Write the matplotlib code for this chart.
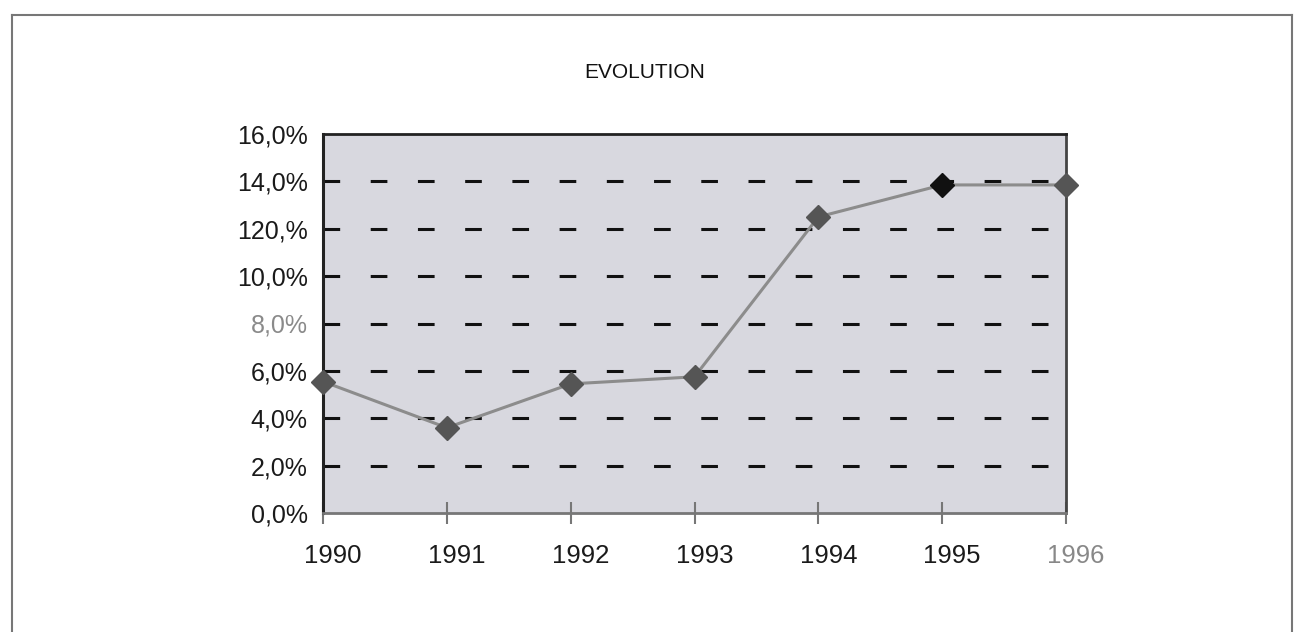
import matplotlib
matplotlib.use("Agg")
import matplotlib.pyplot as plt
from matplotlib.lines import Line2D
from matplotlib.transforms import ScaledTranslation

plt.rcParams['font.family'] = ['Liberation Sans', 'DejaVu Sans']
plt.rcParams['lines.scale_dashes'] = False

# Data
years = [1990, 1991, 1992, 1993, 1994, 1995, 1996]
values = [5.55, 3.6, 5.45, 5.75, 12.5, 13.85, 13.85]
ytick_values = [0, 2, 4, 6, 8, 10, 12, 14, 16]
ytick_labels = ["0,0%", "2,0%", "4,0%", "6,0%", "8,0%", "10,0%", "120,%", "14,0%", "16,0%"]
xtick_labels = ["1990", "1991", "1992", "1993", "1994", "1995", "1996"]
title = "EVOLUTION"

fig = plt.figure(figsize=(12.95, 6.32), dpi=100)
fig.patch.set_facecolor('white')

# outer frame
for xs, ys in [([12/1295, 12/1295], [0, 1-15/632]),
               ([12/1295, 1292/1295], [1-15/632, 1-15/632]),
               ([1292/1295, 1292/1295], [1-15/632, 0])]:
    fig.add_artist(Line2D(xs, ys, transform=fig.transFigure, color='#777777', lw=1.5))

ax = fig.add_axes([323/1295, 1-513/632, (1066-323)/1295, (513-134)/632])
ax.set_facecolor('#d8d8df')
ax.set_xlim(years[0], years[-1])
ax.set_ylim(0, 16)

# dashed gridlines
for v in ytick_values[1:-1]:
    ax.axhline(v, color='#111111', lw=2.2, linestyle=(0, (12, 22)), zorder=1)

ax.plot(years, values, color='#8c8c8c', lw=2.2, zorder=2, clip_on=False)
for i, (x, y) in enumerate(zip(years, values)):
    c = '#111111' if x == 1995 else '#555555'
    ax.plot([x], [y], marker='D', ms=12, color=c, mec=c, zorder=3, clip_on=False)

ax.set_yticks(ytick_values)
ax.set_yticklabels(ytick_labels, fontsize=18, color='#1a1a1a')
ax.set_xticks(years)
ax.set_xticklabels(xtick_labels, fontsize=18.5, color='#1a1a1a')
ax.tick_params(axis='y', length=0, pad=11)
ax.tick_params(axis='x', direction='inout', length=16, width=1.5, color='#777777', pad=14)
offset = ScaledTranslation(10/100, 0, fig.dpi_scale_trans)
for lbl in ax.get_xticklabels():
    lbl.set_transform(lbl.get_transform() + offset)
for lbl in ax.get_yticklabels():
    if lbl.get_text() == "8,0%":
        lbl.set_color('#8a8a8a')
for lbl in ax.get_xticklabels():
    if lbl.get_text() == "1996":
        lbl.set_color('#888888')

ax.spines['left'].set_color('#222222')
ax.spines['left'].set_linewidth(2.2)
ax.spines['top'].set_color('#222222')
ax.spines['top'].set_linewidth(2.0)
ax.spines['right'].set_color('#444444')
ax.spines['right'].set_linewidth(2.0)
ax.spines['bottom'].set_color('#777777')
ax.spines['bottom'].set_linewidth(2.0)

fig.text(645/1295, 1-72/632, title, ha='center', va='center', fontsize=15, color='#111111')

fig.savefig("out.png", dpi=100)
